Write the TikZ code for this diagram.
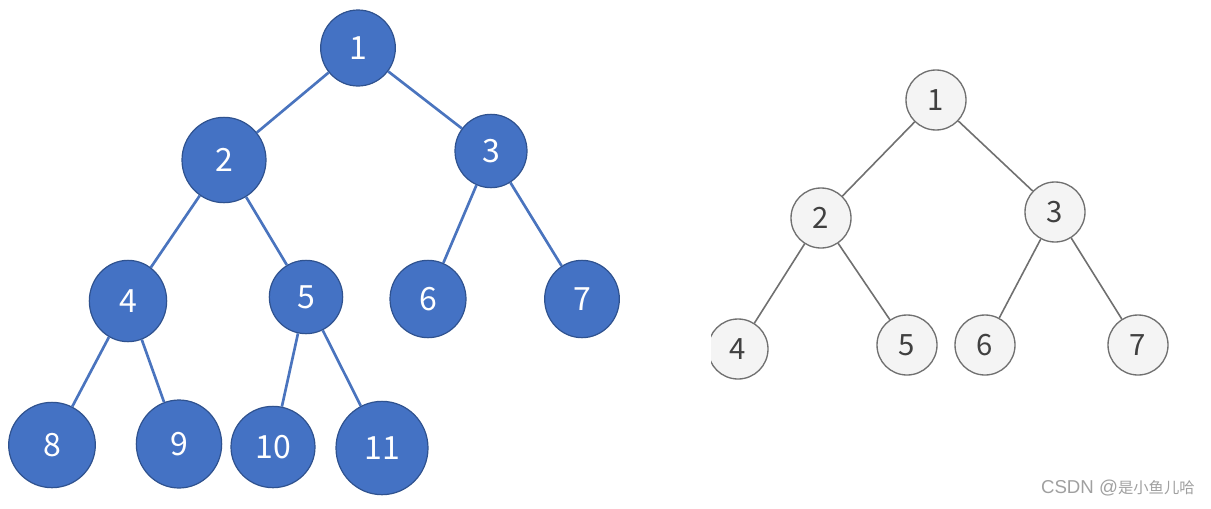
\documentclass[tikz,border=0pt]{standalone}
\usepackage{fontspec}
\setmainfont{Noto Sans CJK SC}
\newfontfamily\latinwm{Liberation Sans}
\usepackage{xcolor}
\usepackage{tikz}
\usetikzlibrary{shapes.geometric}

\definecolor{bfill}{HTML}{4472C4}
\definecolor{bborder}{HTML}{2F528F}
\definecolor{bedge}{HTML}{4A74BE}
\definecolor{gfill}{HTML}{F4F4F4}
\definecolor{gline}{HTML}{707070}
\definecolor{gtext}{HTML}{404040}
\definecolor{wmark}{HTML}{A0A0A0}

\begin{document}
\begin{tikzpicture}[
    x=0.75pt, y=-0.75pt,
    bnode/.style 2 args={ellipse, draw=bborder, fill=bfill, line width=0.9pt, inner sep=0pt,
        minimum width=#1, minimum height=#2, text=white, font=\fontsize{24}{24}\selectfont},
    gnode/.style={circle, draw=gline, fill=gfill, line width=1pt, inner sep=0pt,
        minimum size=45pt, text=gtext, font=\fontsize{22}{22}\selectfont},
    bline/.style={draw=bedge, line width=2pt},
    gline/.style={draw=gline, line width=1.2pt}
]
\useasboundingbox (0,0) rectangle (1211,508);

% complete tree
\node[bnode={56pt}{57pt}] (b1) at (358,48) {1};
\node[bnode={63pt}{64pt}] (b2) at (224,160) {2};
\node[bnode={54pt}{55pt}] (b3) at (491,151) {3};
\node[bnode={58pt}{61pt}] (b4) at (128,301) {4};
\node[bnode={55pt}{55pt}] (b5) at (306,297) {5};
\node[bnode={57pt}{58pt}] (b6) at (428,299) {6};
\node[bnode={56pt}{58pt}] (b7) at (582,299) {7};
\node[bnode={65pt}{64pt}] (b8) at (52,445) {8};
\node[bnode={64pt}{66pt}] (b9) at (179,444) {9};
\node[bnode={63pt}{61pt}] (b10) at (273,447) {10};
\node[bnode={69pt}{70pt}] (b11) at (382,448) {11};

\draw[bline] (b1) -- (b2);
\draw[bline] (b1) -- (b3);
\draw[bline] (b2) -- (b4);
\draw[bline] (b2) -- (b5);
\draw[bline] (b3) -- (b6);
\draw[bline] (b3) -- (b7);
\draw[bline] (b4) -- (b8);
\draw[bline] (b4) -- (b9);
\draw[bline] (b5) -- (b10);
\draw[bline] (b5) -- (b11);

% full tree
\begin{scope}
\clip (711,0) rectangle (1211,508);
\node[gnode] (g1) at (936,100) {1};
\node[gnode] (g2) at (821,218) {2};
\node[gnode] (g3) at (1055,212) {3};
\node[gnode] (g4) at (738,349) {4};
\node[gnode] (g5) at (907,345) {5};
\node[gnode] (g6) at (985,345) {6};
\node[gnode] (g7) at (1138,345) {7};

\draw[gline] (g1) -- (g2);
\draw[gline] (g1) -- (g3);
\draw[gline] (g2) -- (g4);
\draw[gline] (g2) -- (g5);
\draw[gline] (g3) -- (g6);
\draw[gline] (g3) -- (g7);
\end{scope}

\node[anchor=east, inner sep=0pt, text=wmark, font=\fontsize{11.5}{11.5}\selectfont] (wm) at (1195,488) {{\latinwm\fontsize{14}{14}\selectfont CSDN @}是小鱼儿哈};
\end{tikzpicture}
\end{document}
